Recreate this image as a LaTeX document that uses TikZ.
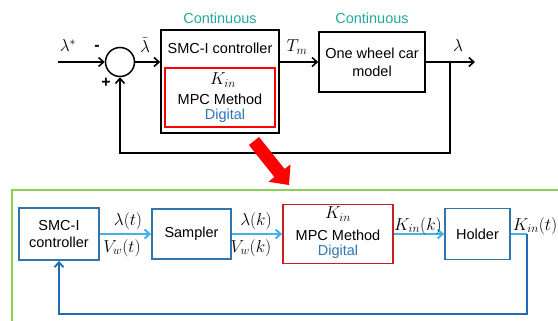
\documentclass[tikz,border=0pt]{standalone}
\usepackage[no-math]{fontspec}
\setmainfont{Liberation Sans}
\usetikzlibrary{arrows.meta}
\definecolor{contc}{RGB}{38,166,160}
\definecolor{digc}{RGB}{46,117,182}
\definecolor{boxblue}{RGB}{49,118,170}
\definecolor{lightarr}{RGB}{66,178,232}
\definecolor{fbblue}{RGB}{28,108,184}
\definecolor{mpcred}{RGB}{200,30,36}
\definecolor{framegreen}{RGB}{146,206,86}
\tikzset{
  x=1pt, y=-1pt,
  txt/.style={font=\fontsize{14.5}{16}\selectfont, inner sep=0pt},
  mth/.style={font=\fontsize{18}{20}\selectfont, inner sep=0pt},
  blk/.style={draw=black, line width=1.6pt, inner sep=0pt},
  bluebox/.style={draw=boxblue, line width=1.8pt, inner sep=0pt, txt, align=center},
  sig/.style={line width=1.6pt, -{Straight Barb[length=5pt,width=9pt,line width=1.6pt]}},
  lsig/.style={draw=lightarr, line width=2pt, -{Straight Barb[length=5pt,width=9pt,line width=2pt]}},
  fbsig/.style={draw=fbblue, line width=1.8pt, -{Straight Barb[length=5pt,width=9pt,line width=1.8pt]}},
}
\begin{document}
\begin{tikzpicture}
\useasboundingbox (0,0) rectangle (558,321);

% ---------- upper loop ----------
\coordinate (in) at (58,62);
\node[draw, line width=1.5pt, circle, minimum size=29pt, inner sep=0pt] (sum) at (120,62) {};
\node[mth] (lstar) at (68,46) {$\lambda^{*}$};
\node[txt, font=\fontsize{16}{17}\selectfont\bfseries] (minus) at (97,48) {-};
\node[txt, font=\fontsize{16}{17}\selectfont\bfseries] (plus) at (106,83) {+};

\node[blk, minimum width=118pt, minimum height=103pt] (smc) at (220,81.5) {};
\node[txt] (smctxt) at (220,48) {SMC-I controller};
\node[draw=red, line width=1.6pt, minimum width=110pt, minimum height=59pt, inner sep=0pt] (mpcin) at (220,97.5) {};
\node[mth] (kin) at (223,80) {$K_{in}$};
\node[txt] (mpctxt) at (220,99) {MPC Method};
\node[txt, text=digc] (digtxt) at (225,116) {Digital};
\node[txt, text=contc] (cont1) at (220,18) {Continuous};

\node[blk, minimum width=106pt, minimum height=60pt, txt, align=center] (car) at (372,62) {One wheel car\\[2pt]model};
\node[txt, text=contc] (cont2) at (372,18) {Continuous};

\coordinate (out) at (475,62);
\coordinate (br) at (450,62);
\coordinate (fb) at (450,153);

\draw[sig] (in) -- (sum.west);
\draw[sig] (sum.east) -- (smc.west |- sum.center);
\node[mth] (ltil) at (145,45) {$\tilde{\lambda}$};
\draw[sig] (smc.east |- sum.center) -- (car.west |- sum.center);
\node[mth] (tm) at (297,47) {$T_m$};
\draw[sig] (car.east |- sum.center) -- (out);
\node[mth] (lout) at (458,46) {$\lambda$};
\draw[sig] (br) -- (fb) -| (sum.south);

% big red arrow pointing to the detail
\fill[red] (259.1,137.0) -- (284.6,169.0) -- (290.5,164.4) -- (289,185)
  -- (268.5,181.8) -- (274.4,177.1) -- (248.9,145.0) -- cycle;

% ---------- detail frame ----------
\draw[framegreen, line width=2pt] (12,330) -- (12,190) -- (570,190);

\node[bluebox, minimum width=80pt, minimum height=52pt] (smc2) at (59,234) {SMC-I\\[1pt]controller};
\node[bluebox, minimum width=79pt, minimum height=50pt] (samp) at (191.5,234) {Sampler};
\node[draw=mpcred, line width=1.8pt, minimum width=110pt, minimum height=59pt, inner sep=0pt] (mpc2) at (338,234) {};
\node[mth] (kin2) at (338,214) {$K_{in}$};
\node[txt] (mpctxt2) at (338,235) {MPC Method};
\node[txt, text=digc] (digtxt2) at (338,252) {Digital};
\node[bluebox, minimum width=65pt, minimum height=51pt] (hold) at (477.5,234) {Holder};

\draw[lsig] (smc2.east) -- (samp.west);
\node[mth] (lt) at (128,221) {$\lambda(t)$};
\node[mth] (vt) at (122,248) {$V_w(t)$};
\draw[lsig] (samp.east) -- (mpc2.west);
\node[mth] (lk) at (256,221) {$\lambda(k)$};
\node[mth] (vk) at (251,248) {$V_w(k)$};
\draw[lsig] (mpc2.east) -- (hold.west);
\node[mth] (kk) at (418,226) {$K_{in}(k)$};
\node[mth] (kt) at (535,226) {$K_{in}(t)$};

\coordinate (hc) at (527,234);
\coordinate (hb) at (527,314);
\draw[lightarr, line width=2pt] (hold.east) -- (hc);
\draw[fbsig] (hc) -- (hb) -| (smc2.south);
\end{tikzpicture}
\end{document}
